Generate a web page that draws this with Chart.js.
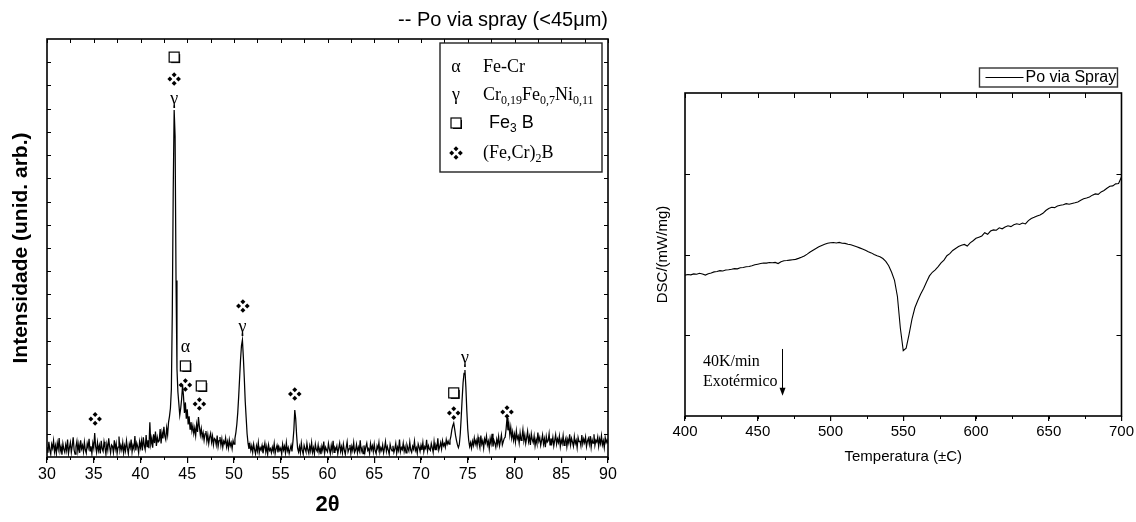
<!DOCTYPE html>
<html>
<head>
<meta charset="utf-8">
<script src="https://cdn.jsdelivr.net/npm/chart.js@4.4.1/dist/chart.umd.min.js"></script>
<style>
  html, body { margin: 0; padding: 0; background: #fff; }
  #wrap { position: relative; width: 1136px; height: 522px; overflow: hidden; }
  #xrd { position: absolute; left: 0; top: 0; width: 620px; height: 522px; }
  #dsc { position: absolute; left: 625px; top: 0; width: 511px; height: 522px; }
</style>
</head>
<body>
<div id="wrap">
  <canvas id="xrd" width="620" height="522"></canvas>
  <canvas id="dsc" width="511" height="522"></canvas>
</div>
<script>
const SANS = '"Liberation Sans", Arial, sans-serif';
const SERIF = '"Liberation Serif", "Times New Roman", serif';
Chart.defaults.font.family = SANS;
Chart.defaults.color = '#000';

// --- XRD pattern: 2theta from 30 to 90 deg, one reading every 0.1 deg ---
const twoThetaStart = 30;
const twoThetaStep = 0.1;
const intensity = [
  42, 18, 65, 30, 12, 55, 38, 70, 22, 48,        // 30
  15, 60, 35, 82, 25, 44, 10, 58, 33, 20,        // 31
  52, 28, 75, 15, 40, 62, 20, 48, 85, 30,        // 32
  12, 45, 68, 25, 55, 18, 72, 35, 50, 22,        // 33
  64, 30, 16, 58, 40, 78, 26, 46, 14, 60,        // 34
  38, 103, 45, 20, 62, 28, 50, 15, 70, 35,       // 35
  24, 66, 40, 12, 55, 30, 80, 44, 18, 52,        // 36
  46, 20, 72, 34, 58, 15, 42, 88, 28, 50,        // 37
  30, 62, 18, 48, 26, 70, 38, 14, 56, 40,        // 38
  75, 22, 50, 35, 90, 28, 60, 45, 18, 66,        // 39
  40, 70, 28, 85, 50, 32, 95, 45, 72, 38,        // 40
  150, 55, 80, 40, 98, 60, 110, 48, 85, 65,      // 41
  70, 120, 58, 105, 80, 130, 90, 75, 125, 95,    // 42
  150, 175, 210, 290, 620, 1150, 1494, 1380, 760, 380, // 43
  280, 230, 180, 210, 250, 310, 260, 190, 235, 165,    // 44
  205, 140, 175, 120, 150, 112, 135, 100, 125, 92,     // 45
  140, 108, 172, 130, 95, 122, 85, 105, 72, 100,       // 46
  112, 68, 95, 58, 86, 102, 64, 90, 52, 80,      // 47
  75, 52, 92, 45, 70, 86, 50, 78, 42, 68,        // 48
  58, 82, 44, 66, 38, 74, 48, 62, 36, 70,        // 49
  55, 80, 105, 140, 190, 260, 340, 420, 480, 504,      // 50
  430, 340, 240, 170, 100, 60, 35, 55, 28, 48,         // 51
  20, 55, 32, 14, 48, 26, 62, 18, 40, 30,        // 52
  50, 16, 38, 60, 22, 45, 12, 52, 28, 36,        // 53
  18, 42, 25, 58, 15, 35, 50, 20, 44, 28,        // 54
  38, 12, 55, 30, 46, 18, 62, 26, 40, 15,        // 55
  32, 50, 24, 65, 115, 202, 165, 92, 38, 22,     // 56
  45, 18, 60, 28, 12, 50, 35, 22, 58, 30,        // 57
  16, 48, 26, 62, 20, 40, 14, 55, 32, 24,        // 58
  52, 20, 38, 12, 46, 28, 66, 18, 42, 30,        // 59
  22, 58, 34, 15, 50, 26, 70, 20, 40, 32,        // 60
  48, 14, 38, 60, 24, 44, 18, 56, 30, 12,        // 61
  40, 65, 22, 35, 52, 16, 46, 28, 62, 20,        // 62
  30, 54, 18, 42, 26, 72, 24, 38, 14, 50,        // 63
  20, 44, 60, 28, 36, 15, 58, 32, 48, 22,        // 64
  56, 26, 14, 48, 34, 62, 20, 40, 28, 52,        // 65
  18, 38, 66, 24, 45, 30, 12, 54, 36, 26,        // 66
  48, 20, 35, 58, 16, 42, 28, 75, 22, 40,        // 67
  32, 60, 24, 44, 18, 52, 38, 26, 64, 30,        // 68
  20, 46, 34, 68, 28, 40, 16, 56, 42, 24,        // 69
  50, 30, 62, 22, 44, 36, 74, 26, 48, 34,        // 70
  28, 58, 40, 20, 66, 32, 50, 38, 80, 30,        // 71
  45, 62, 35, 70, 48, 58, 42, 75, 55, 68,        // 72
  55, 72, 90, 118, 135, 146, 120, 92, 70, 52,    // 73
  40, 55, 100, 170, 250, 320, 360, 375, 300, 200,      // 74
  120, 72, 45, 62, 38, 68, 50, 82, 56, 72,       // 75
  48, 85, 60, 40, 92, 55, 70, 38, 78, 62,        // 76
  90, 52, 68, 35, 80, 58, 100, 45, 72, 60,       // 77
  42, 76, 55, 88, 48, 70, 95, 52, 66, 80,        // 78
  85, 120, 168, 115, 140, 95, 128, 82, 108, 72,  // 79
  98, 65, 112, 78, 90, 60, 104, 72, 85, 118,     // 80
  70, 95, 58, 82, 110, 66, 88, 52, 100, 75,      // 81
  62, 90, 48, 76, 58, 105, 68, 84, 50, 72,       // 82
  95, 55, 78, 42, 88, 64, 70, 100, 52, 80,       // 83
  60, 85, 48, 72, 96, 55, 78, 62, 90, 45,        // 84
  74, 58, 92, 50, 68, 82, 44, 76, 60, 98,        // 85
  52, 80, 64, 46, 88, 58, 72, 40, 84, 66,        // 86
  70, 48, 94, 56, 78, 62, 86, 45, 68, 80,        // 87
  55, 90, 42, 75, 60, 98, 50, 72, 64, 86,        // 88
  46, 78, 58, 92, 52, 70, 40, 84, 62, 74,        // 89
  58                                             // 90
];

// phase markers above the reflections (2theta, height in counts)
const peakMarks = [
  { theta: 43.6, level: 1722, type: 'sq' },
  { theta: 43.6, level: 1628, type: 'dia' },
  { theta: 43.6, level: 1541, type: 'γ' },
  { theta: 44.8, level: 474, type: 'α' },
  { theta: 44.8, level: 392, type: 'sq' },
  { theta: 44.8, level: 310, type: 'dia' },
  { theta: 46.5, level: 306, type: 'sq' },
  { theta: 46.3, level: 228, type: 'dia' },
  { theta: 50.95, level: 650, type: 'dia' },
  { theta: 50.9, level: 560, type: 'γ' },
  { theta: 56.5, level: 271, type: 'dia' },
  { theta: 35.15, level: 164, type: 'dia' },
  { theta: 73.5, level: 276, type: 'sq' },
  { theta: 73.5, level: 189, type: 'dia' },
  { theta: 74.7, level: 426, type: 'γ' },
  { theta: 79.2, level: 194, type: 'dia' }
];

// --- DSC curve: 400 to 700 C, every 2 C ---
const tempStart = 400;
const tempStep = 2;
const dscSignal = [
  1.745, 1.752, 1.748, 1.760, 1.755, 1.768, 1.758, 1.745, 1.762, 1.772, // 400-418
  1.785, 1.790, 1.800, 1.796, 1.808, 1.812, 1.818, 1.825, 1.822, 1.835, // 420-438
  1.840, 1.848, 1.852, 1.860, 1.872, 1.880, 1.888, 1.895, 1.893, 1.900, // 440-458
  1.898, 1.902, 1.888, 1.910, 1.922, 1.925, 1.930, 1.935, 1.940, 1.952, // 460-478
  1.965, 1.982, 2.005, 2.030, 2.052, 2.075, 2.095, 2.112, 2.128, 2.140, // 480-498
  2.145, 2.148, 2.142, 2.150, 2.140, 2.138, 2.128, 2.120, 2.108, 2.095, // 500-518
  2.082, 2.068, 2.052, 2.035, 2.020, 2.000, 1.985, 1.972, 1.950, 1.915, // 520-538
  1.860, 1.780, 1.680, 1.480, 1.090, 0.810, 0.840, 1.010, 1.200, 1.340, // 540-558
  1.430, 1.510, 1.580, 1.660, 1.735, 1.780, 1.810, 1.850, 1.895, 1.930, // 560-578
  1.985, 2.010, 2.050, 2.075, 2.098, 2.115, 2.125, 2.105, 2.145, 2.170, // 580-598
  2.200, 2.215, 2.230, 2.270, 2.250, 2.290, 2.305, 2.300, 2.330, 2.318, // 600-618
  2.340, 2.355, 2.345, 2.368, 2.380, 2.372, 2.390, 2.378, 2.420, 2.445, // 620-638
  2.460, 2.478, 2.490, 2.510, 2.545, 2.570, 2.585, 2.580, 2.600, 2.610, // 640-658
  2.615, 2.630, 2.622, 2.632, 2.640, 2.650, 2.672, 2.690, 2.700, 2.712, // 660-678
  2.735, 2.750, 2.745, 2.775, 2.792, 2.820, 2.845, 2.850, 2.875, 2.880, // 680-698
  2.960                                                                 // 700
];

const xrdPoints = intensity.map((v, i) => ({ x: +(twoThetaStart + i * twoThetaStep).toFixed(2), y: v }));
const dscPoints = dscSignal.map((v, i) => ({ x: tempStart + i * tempStep, y: v }));

// box around the plot plus the small ticks Chart.js doesn't draw (minor, mirrored, inward)
function makeFrame(xMinor, yStep, inLen) {
  return {
    id: 'frame',
    afterDraw(chart) {
      const { ctx, chartArea: a, scales: { x, y } } = chart;
      ctx.save();
      ctx.strokeStyle = '#000';
      ctx.lineWidth = 1;
      ctx.beginPath();
      for (let v = x.min; v <= x.max + 1e-6; v += xMinor) {
        const px = Math.round(x.getPixelForValue(v)) + 0.5;
        ctx.moveTo(px, a.bottom); ctx.lineTo(px, a.bottom + 3);
        ctx.moveTo(px, a.top); ctx.lineTo(px, a.top + inLen);
      }
      for (let v = y.min + yStep; v < y.max - 1e-6; v += yStep) {
        const py = Math.round(y.getPixelForValue(v)) + 0.5;
        ctx.moveTo(a.left, py); ctx.lineTo(a.left + inLen, py);
        ctx.moveTo(a.right, py); ctx.lineTo(a.right - inLen, py);
      }
      ctx.stroke();
      ctx.lineWidth = 1.6;
      ctx.strokeRect(a.left, a.top, a.right - a.left, a.bottom - a.top);
      ctx.restore();
    }
  };
}

function drawSquare(ctx, cx, cy) {
  ctx.fillStyle = '#000';
  ctx.fillRect(cx - 3, cy - 3, 9, 9);
  ctx.fillStyle = '#fff';
  ctx.fillRect(cx - 5, cy - 5, 10, 10);
  ctx.strokeStyle = '#000';
  ctx.lineWidth = 1.2;
  ctx.strokeRect(cx - 5, cy - 5, 10, 10);
}

function drawDiamonds(ctx, cx, cy) {
  ctx.fillStyle = '#000';
  [[0, -4.3], [-4.3, 0], [4.3, 0], [0, 4.3]].forEach(([dx, dy]) => {
    const x = cx + dx, y = cy + dy, r = 2.5;
    ctx.beginPath();
    ctx.moveTo(x, y - r); ctx.lineTo(x + r, y); ctx.lineTo(x, y + r); ctx.lineTo(x - r, y);
    ctx.closePath();
    ctx.fill();
  });
}

function drawSymbol(ctx, type, x, y) {
  if (type === 'sq') drawSquare(ctx, x, y);
  else if (type === 'dia') drawDiamonds(ctx, x, y);
  else {
    ctx.fillStyle = '#000';
    ctx.font = '18px ' + SERIF;
    ctx.textAlign = 'center';
    ctx.textBaseline = 'middle';
    ctx.fillText(type, x, y);
  }
}

// text with subscripts: parts are [text, isSub, family]
function drawParts(ctx, x, y, parts) {
  ctx.textAlign = 'left';
  ctx.textBaseline = 'middle';
  ctx.fillStyle = '#000';
  parts.forEach(([txt, sub, fam]) => {
    ctx.font = (sub ? 12 : 18) + 'px ' + (fam === 'sans' ? SANS : SERIF);
    ctx.fillText(txt, x, sub ? y + 6 : y);
    x += ctx.measureText(txt).width;
  });
}

const phaseLegend = [
  { sym: 'α', parts: [['Fe-Cr']] },
  { sym: 'γ', parts: [['Cr'], ['0,19', 1], ['Fe'], ['0,7', 1], ['Ni'], ['0,11', 1]] },
  { sym: 'sq', parts: [['Fe', 0, 'sans'], ['3', 1, 'sans'], [' B', 0, 'sans']] },
  { sym: 'dia', parts: [['(Fe,Cr)'], ['2', 1], ['B']] }
];

const xrdMarks = {
  id: 'xrdMarks',
  afterDraw(chart) {
    const { ctx, chartArea: a, scales: { x, y } } = chart;
    ctx.save();
    peakMarks.forEach(m => drawSymbol(ctx, m.type, x.getPixelForValue(m.theta), y.getPixelForValue(m.level)));

    // phase legend, upper right corner
    const l = a.right - 168, t = a.top + 4;
    ctx.strokeStyle = '#222';
    ctx.lineWidth = 1.4;
    ctx.strokeRect(l, t, 162, 129);
    const rowY = [24, 52, 80, 110];
    phaseLegend.forEach((row, i) => {
      drawSymbol(ctx, row.sym, l + 16, t + rowY[i]);
      drawParts(ctx, l + (row.sym === 'sq' ? 49 : 43), t + rowY[i], row.parts);
    });
    ctx.restore();
  }
};

new Chart(document.getElementById('xrd'), {
  type: 'line',
  data: {
    datasets: [{
      data: xrdPoints,
      borderColor: '#000',
      borderWidth: 1.25,
      pointRadius: 0,
      tension: 0
    }]
  },
  options: {
    responsive: false,
    animation: false,
    layout: { padding: { right: 12 } },
    plugins: {
      legend: { display: false },
      tooltip: { enabled: false },
      title: {
        display: true,
        text: '-- Po via spray (<45μm)',
        align: 'end',
        color: '#000',
        font: { family: SANS, size: 20, weight: 'normal' },
        padding: { top: 8, bottom: 7 }
      }
    },
    scales: {
      x: {
        type: 'linear',
        min: 30,
        max: 90,
        ticks: { stepSize: 5, font: { size: 16 }, padding: 2, maxRotation: 0 },
        grid: { drawOnChartArea: false, tickLength: 6, color: '#000', lineWidth: 1.2 },
        border: { display: false },
        title: { display: true, text: '2θ', font: { size: 22, weight: 'bold' }, padding: { top: 0, bottom: 4 } },
        afterFit(s) { s.height = 65; }
      },
      y: {
        min: 0,
        max: 1800,
        ticks: { display: false, stepSize: 100 },
        grid: { display: false },
        border: { display: false },
        title: { display: true, text: 'Intensidade (unid. arb.)', font: { size: 21, weight: 'bold' }, padding: { top: 9, bottom: 0 } },
        afterFit(s) { s.width = 47; }
      }
    }
  },
  plugins: [makeFrame(2.5, 100, 4), xrdMarks]
});

const dscNotes = {
  id: 'dscNotes',
  afterDraw(chart) {
    const { ctx, chartArea: a, scales: { x, y } } = chart;
    ctx.save();
    ctx.fillStyle = '#000';
    ctx.font = '16px ' + SERIF;
    ctx.textAlign = 'left';
    ctx.textBaseline = 'middle';
    ctx.fillText('40K/min', x.getPixelForValue(412.3), y.getPixelForValue(0.67));
    ctx.fillText('Exotérmico', x.getPixelForValue(412.3), y.getPixelForValue(0.42));

    // arrow pointing down (exothermic direction)
    const ax = Math.round(x.getPixelForValue(466.4)) + 0.5;
    const y0 = y.getPixelForValue(0.83), y1 = y.getPixelForValue(0.25);
    ctx.strokeStyle = '#000';
    ctx.lineWidth = 1;
    ctx.beginPath(); ctx.moveTo(ax, y0); ctx.lineTo(ax, y1 - 6); ctx.stroke();
    ctx.beginPath(); ctx.moveTo(ax - 3, y1 - 8); ctx.lineTo(ax + 3, y1 - 8); ctx.lineTo(ax, y1); ctx.closePath(); ctx.fill();

    // series legend above the plot
    const l = a.right - 142, t = a.top - 25;
    ctx.strokeStyle = '#333';
    ctx.lineWidth = 1.4;
    ctx.strokeRect(l, t, 138, 19);
    ctx.strokeStyle = '#000';
    ctx.lineWidth = 1;
    ctx.beginPath(); ctx.moveTo(l + 6, t + 9.5); ctx.lineTo(l + 44, t + 9.5); ctx.stroke();
    ctx.font = '16px ' + SANS;
    ctx.fillText('Po via Spray', l + 46, t + 10);
    ctx.restore();
  }
};

new Chart(document.getElementById('dsc'), {
  type: 'line',
  data: {
    datasets: [{
      data: dscPoints,
      borderColor: '#000',
      borderWidth: 1.1,
      pointRadius: 0,
      tension: 0
    }]
  },
  options: {
    responsive: false,
    animation: false,
    layout: { padding: { top: 93, right: 13 } },
    plugins: {
      legend: { display: false },
      tooltip: { enabled: false }
    },
    scales: {
      x: {
        type: 'linear',
        min: 400,
        max: 700,
        ticks: { stepSize: 50, font: { size: 15 }, padding: 2, maxRotation: 0 },
        grid: { drawOnChartArea: false, tickLength: 5, color: '#000', lineWidth: 1.2 },
        border: { display: false },
        title: { display: true, text: 'Temperatura (±C)', font: { size: 15 }, padding: { top: 0, bottom: 56 } },
        afterFit(s) { s.height = 106; }
      },
      y: {
        min: 0,
        max: 4,
        ticks: { display: false, stepSize: 1 },
        grid: { display: false },
        border: { display: false },
        title: { display: true, text: 'DSC/(mW/mg)', font: { size: 15 }, padding: { top: 29, bottom: 0 } },
        afterFit(s) { s.width = 60; }
      }
    }
  },
  plugins: [makeFrame(25, 1, 5), dscNotes]
});
</script>
</body>
</html>
